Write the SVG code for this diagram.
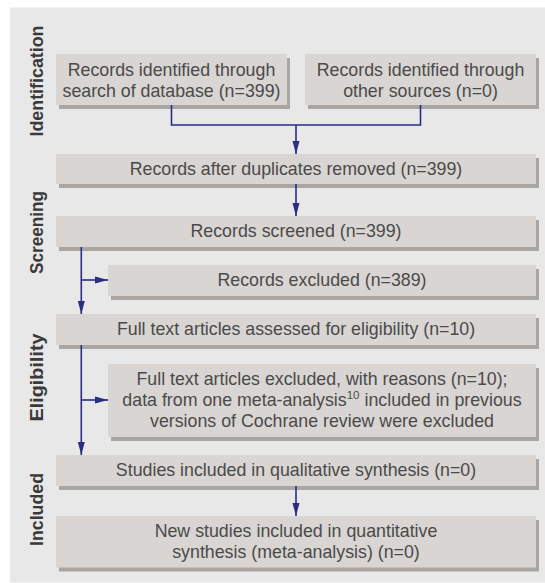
<svg xmlns="http://www.w3.org/2000/svg" width="545" height="583" viewBox="0 0 545 583">
<defs>
<style>
.bx{fill:#d9d5d2}
.sh{fill:#a9a5a3}
.t{font-family:"Liberation Sans",Arial,sans-serif;font-size:17.8px;fill:#4a4a4a;text-anchor:middle}
.lab{font-family:"Liberation Sans",Arial,sans-serif;font-size:17.8px;font-weight:bold;fill:#3a3a3a;text-anchor:middle}
.ln{fill:none;stroke:#2b2d82;stroke-width:1.6}
</style>
<marker id="ah" markerUnits="userSpaceOnUse" markerWidth="14" markerHeight="8" refX="13" refY="4" orient="auto">
<polygon points="0,0.5 13,4 0,7.5" fill="#2b2d82"/>
</marker>
</defs>
<rect x="10" y="7.5" width="535" height="575" fill="#e8e8e8"/>
<g id="labels">
<text class="lab" transform="translate(43.3,81) rotate(-90)" textLength="111" lengthAdjust="spacingAndGlyphs">Identification</text>
<text class="lab" transform="translate(43.3,232.5) rotate(-90)" textLength="83" lengthAdjust="spacingAndGlyphs">Screening</text>
<text class="lab" transform="translate(43.3,377.5) rotate(-90)" textLength="88" lengthAdjust="spacingAndGlyphs">Eligibility</text>
<text class="lab" transform="translate(43.3,509.5) rotate(-90)" textLength="73" lengthAdjust="spacingAndGlyphs">Included</text>
</g>
<g id="n1">
<rect class="sh" x="59" y="58" width="231" height="51"/>
<rect class="bx" x="56" y="54" width="231" height="51"/>
<text class="t" x="171.5" y="75.5">Records identified through</text>
<text class="t" x="171.5" y="96.5">search of database (n=399)</text>
</g>
<g id="n2">
<rect class="sh" x="308" y="58" width="231" height="51"/>
<rect class="bx" x="305" y="54" width="231" height="51"/>
<text class="t" x="420.5" y="75.5">Records identified through</text>
<text class="t" x="420.5" y="96.5">other sources (n=0)</text>
</g>
<g id="n3">
<rect class="sh" x="59" y="158" width="480" height="30"/>
<rect class="bx" x="56" y="154" width="480" height="30"/>
<text class="t" x="296" y="175">Records after duplicates removed (n=399)</text>
</g>
<g id="n4">
<rect class="sh" x="59" y="220" width="480" height="31"/>
<rect class="bx" x="56" y="216" width="480" height="31"/>
<text class="t" x="296" y="237">Records screened (n=399)</text>
</g>
<g id="n5">
<rect class="sh" x="111" y="269" width="428" height="31"/>
<rect class="bx" x="108" y="265" width="428" height="31"/>
<text class="t" x="322" y="286">Records excluded (n=389)</text>
</g>
<g id="n6">
<rect class="sh" x="59" y="318" width="480" height="31"/>
<rect class="bx" x="56" y="314" width="480" height="31"/>
<text class="t" x="296" y="335">Full text articles assessed for eligibility (n=10)</text>
</g>
<g id="n7">
<rect class="sh" x="111" y="368" width="428" height="73"/>
<rect class="bx" x="108" y="364" width="428" height="73"/>
<text class="t" x="322" y="384.5">Full text articles excluded, with reasons (n=10);</text>
<text class="t" x="322" y="406">data from one meta-analysis<tspan font-size="11.5px" dy="-7">10</tspan><tspan dy="7"> included in previous</tspan></text>
<text class="t" x="322" y="427">versions of Cochrane review were excluded</text>
</g>
<g id="n8">
<rect class="sh" x="59" y="459" width="480" height="31"/>
<rect class="bx" x="56" y="455" width="480" height="31"/>
<text class="t" x="296" y="476">Studies included in qualitative synthesis (n=0)</text>
</g>
<g id="n9">
<rect class="sh" x="59" y="520" width="480" height="51.5"/>
<rect class="bx" x="56" y="516" width="480" height="51.5"/>
<text class="t" x="296" y="537">New studies included in quantitative</text>
<text class="t" x="296" y="558">synthesis (meta-analysis) (n=0)</text>
</g>
<g id="connectors">
<polyline class="ln" points="171.5,105 171.5,125 420.5,125 420.5,105"/>
<line class="ln" x1="296" y1="125" x2="296" y2="154" marker-end="url(#ah)"/>
<line class="ln" x1="296" y1="184" x2="296" y2="216" marker-end="url(#ah)"/>
<line class="ln" x1="81.3" y1="247" x2="81.3" y2="314" marker-end="url(#ah)"/>
<line class="ln" x1="81.3" y1="280" x2="108" y2="280" marker-end="url(#ah)"/>
<line class="ln" x1="81.3" y1="345" x2="81.3" y2="455" marker-end="url(#ah)"/>
<line class="ln" x1="81.3" y1="400" x2="108" y2="400" marker-end="url(#ah)"/>
<line class="ln" x1="296" y1="486" x2="296" y2="516" marker-end="url(#ah)"/>
</g>
</svg>
